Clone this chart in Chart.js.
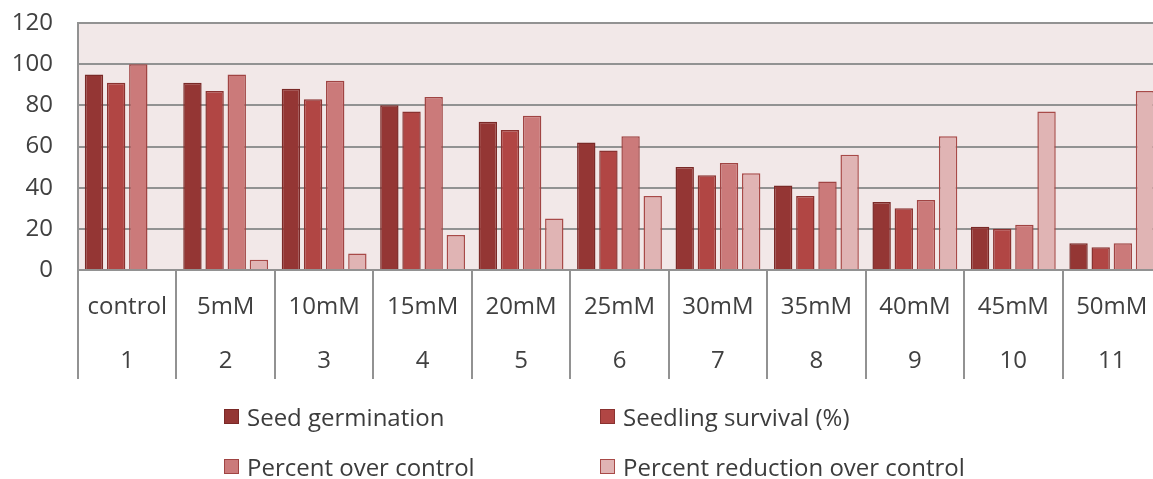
<!DOCTYPE html>
<html>
<head>
<meta charset="utf-8">
<script src="https://cdn.jsdelivr.net/npm/chart.js@4/dist/chart.umd.min.js"></script>
<style>
  html, body { margin: 0; padding: 0; background: #ffffff; overflow: hidden; width: 1153px; height: 479px; }
  #wrap { position: relative; width: 1166px; height: 479px; }
  #legend { position: absolute; left: 0; top: 0; width: 1153px; height: 479px; pointer-events: none;
            font-family: "Open Sans", sans-serif; font-size: 24px; color: #3c3c3c; }
  .item { position: absolute; display: flex; align-items: center; white-space: nowrap; }
  .box { width: 15px; height: 15px; box-sizing: border-box; border: 1.5px solid; margin-right: 8px; }
</style>
</head>
<body>
<div id="wrap">
  <canvas id="c" width="1166" height="479"></canvas>
  <div id="legend"></div>
</div>
<script>
const categories = ["control", "5mM", "10mM", "15mM", "20mM", "25mM", "30mM", "35mM", "40mM", "45mM", "50mM"];
const indexLabels = ["1", "2", "3", "4", "5", "6", "7", "8", "9", "10", "11"];
const seriesNames = ["Seed germination", "Seedling survival (%)", "Percent over control", "Percent reduction over control"];
const seedGermination   = [95, 91, 88, 80, 72, 62, 50, 41, 33, 21, 13];
const seedlingSurvival  = [91, 87, 83, 77, 68, 58, 46, 36, 30, 20, 11];
const percentOverCtrl   = [100, 95, 92, 84, 75, 65, 52, 43, 34, 22, 13];
const percentReduction  = [0, 5, 8, 17, 25, 36, 47, 56, 65, 77, 87];
const yTicks = [0, 20, 40, 60, 80, 100, 120];

const fills   = ["#943634", "#b14644", "#cb7a7a", "#e0b4b4"];
const borders = ["#7a2927", "#8a3230", "#a04443", "#a84a48"];
const seriesValues = [seedGermination, seedlingSurvival, percentOverCtrl, percentReduction];

const labels = categories.map((c, i) => [c, indexLabels[i]]);

const plotBg = {
  id: 'plotBg',
  beforeDraw(chart) {
    const a = chart.chartArea, ctx = chart.ctx;
    ctx.save();
    ctx.fillStyle = '#f2e8e8';
    ctx.fillRect(a.left, a.top, a.right - a.left, a.bottom - a.top);
    ctx.restore();
  }
};

new Chart(document.getElementById('c'), {
  type: 'bar',
  data: {
    labels: labels,
    datasets: seriesNames.map((n, i) => ({
      label: n,
      data: seriesValues[i],
      backgroundColor: fills[i],
      borderColor: borders[i],
      borderWidth: 1.5,
      categoryPercentage: 0.9,
      barPercentage: 0.83
    }))
  },
  options: {
    responsive: false,
    animation: false,
    layout: { padding: { top: 23, right: 5, bottom: 89, left: 0 } },
    plugins: { legend: { display: false }, tooltip: { enabled: false } },
    scales: {
      x: {
        grid: { offset: true, drawOnChartArea: false, drawTicks: true, tickLength: 109, color: '#929292', lineWidth: 2 },
        border: { display: true, color: '#929292', width: 2 },
        ticks: { padding: -99, color: '#404040', font: { family: 'Open Sans', size: 24, lineHeight: 2.25 }, maxRotation: 0, autoSkip: false },
        afterFit(s) { s.height = 120; }
      },
      y: {
        min: 0, max: 120,
        afterBuildTicks(s) { s.ticks = yTicks.map(v => ({ value: v })); },
        grid: { color: '#929292', lineWidth: 2, drawTicks: true, tickLength: 25, tickColor: 'rgba(0,0,0,0)' },
        border: { display: true, color: '#929292', width: 2 },
        ticks: { padding: 0, color: '#404040', font: { family: 'Open Sans', size: 24 } },
        afterFit(s) { s.width = 78; }
      }
    }
  },
  plugins: [plotBg]
});

// HTML legend (2 x 2 grid)
const legendPos = [
  { x: 224, y: 416 }, { x: 600, y: 416 },
  { x: 224, y: 466 }, { x: 600, y: 466 }
];
const lg = document.getElementById('legend');
seriesNames.forEach((n, i) => {
  const it = document.createElement('div');
  it.className = 'item';
  it.style.left = legendPos[i].x + 'px';
  it.style.top = (legendPos[i].y - 17) + 'px';
  it.style.height = '34px';
  const b = document.createElement('span');
  b.className = 'box';
  b.style.background = fills[i];
  b.style.borderColor = borders[i];
  const t = document.createElement('span');
  t.textContent = n;
  it.appendChild(b); it.appendChild(t);
  lg.appendChild(it);
});
</script>
</body>
</html>
